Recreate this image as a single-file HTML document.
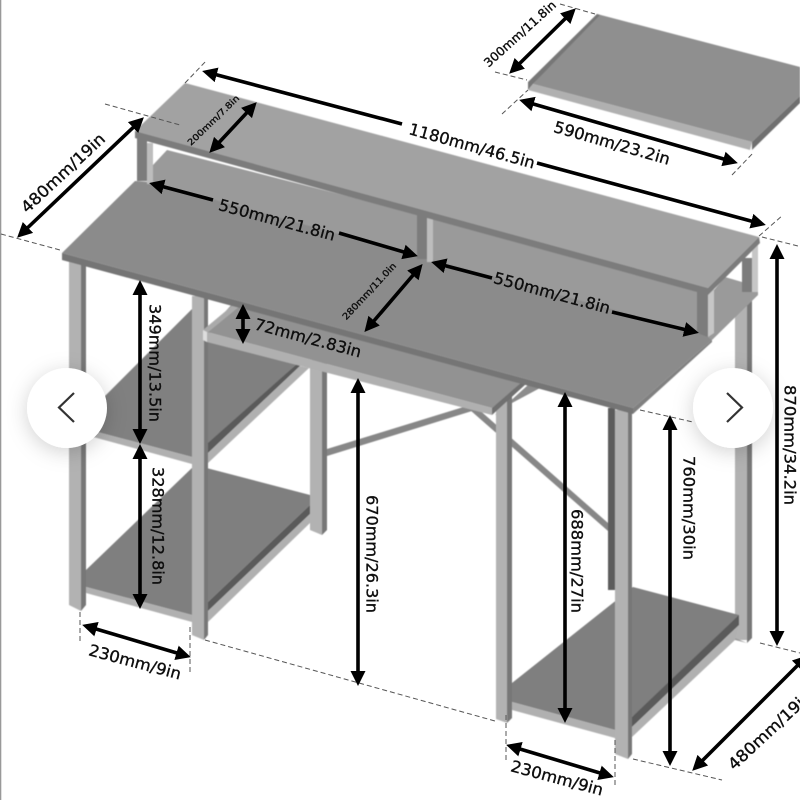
<!DOCTYPE html>
<html><head><meta charset="utf-8"><style>
html,body{margin:0;padding:0;background:#fff}
svg{display:block;width:800px;height:800px}
text{font-family:"DejaVu Sans","Liberation Sans",sans-serif;fill:#111;stroke:#111;stroke-width:.35;text-anchor:middle;dominant-baseline:central}
.d{stroke:#555;stroke-width:1;stroke-dasharray:5 3;fill:none}
.a{stroke:#000;stroke-width:3.6;fill:none}
.s{marker-start:url(#h)}.e{marker-end:url(#h)}
</style></head><body>
<svg viewBox="0 0 800 800" xmlns="http://www.w3.org/2000/svg">
<defs>
<marker id="h" markerUnits="userSpaceOnUse" markerWidth="17" markerHeight="16" refX="11" refY="8" orient="auto-start-reverse"><path d="M0 0.5L15 8L0 15.5Z" fill="#000"/></marker>
<filter id="sh" x="-50%" y="-50%" width="200%" height="200%"><feDropShadow dx="0" dy="4" stdDeviation="10" flood-color="#000" flood-opacity=".18"/></filter>
<filter id="b"><feGaussianBlur stdDeviation=".45"/></filter>
<filter id="b2"><feGaussianBlur stdDeviation=".3"/></filter>
</defs>
<rect width="800" height="800" fill="#fff"/>
<rect x="0" y="0" width="1.3" height="800" fill="#999"/>
<g filter="url(#b)">
<!-- separate board -->
<polygon points="597,14 800,67 800,96 752,142 533,84" fill="#8f8f8f"/>
<polygon points="597,14 528,82 528,90 533,84 600,15" fill="#777"/>
<polygon points="528,90 533,84 752,142 750,150" fill="#b0b0b0"/>
<polygon points="752,142 800,96 800,103 752,150" fill="#707070"/>
<!-- back legs, braces -->
<rect x="608" y="408" width="7" height="182" fill="#5c5c5c"/>
<rect x="735" y="300" width="12" height="340" fill="#b2b2b2"/>
<polygon points="747,300 752,300 752,638 747,643" fill="#777"/>
<polygon points="735,638 747,643 735,640" fill="#999"/>
<polygon points="327,449 470,405 472,411 327,456" fill="#878787"/>
<polygon points="470,410 476,407 608,523 608,531" fill="#878787"/>
<polygon points="495,415 528,385 540,388 512,403 512,410" fill="#8c8c8c"/>
<!-- upper-left shelf -->
<polygon points="193,308 86,415 86,429 192,457 208,445 298,363 215,340" fill="#808080"/>
<polygon points="86,429 192,457 192,464 86,435" fill="#b0b0b0"/>
<polygon points="208,443 298,363 300,366 208,453" fill="#5a5a5a"/>
<polygon points="208,453 300,366 309,368 208,463" fill="#b0b0b0"/>
<!-- lower-left shelf -->
<polygon points="86,570 195,465 310,495 310,505 208,602 192,615 86,587" fill="#7f7f7f"/>
<polygon points="86,587 192,615 192,622 86,593" fill="#b0b0b0"/>
<polygon points="208,602 310,505 310,514 208,611" fill="#5a5a5a"/>
<polygon points="208,611 310,514 310,523 208,622" fill="#b0b0b0"/>
<!-- bottom-right shelf -->
<polygon points="512,683 633,587 739,615 739,625 632,717 615,730 512,702" fill="#7f7f7f"/>
<polygon points="512,702 615,730 615,738 512,710" fill="#b0b0b0"/>
<polygon points="632,717 739,615 739,625 632,727" fill="#5a5a5a"/>
<polygon points="632,727 739,625 735,640 632,737" fill="#b0b0b0"/>
<!-- legs -->
<polygon points="69,262 81,262 81,611 69,605" fill="#b2b2b2"/>
<polygon points="81,262 86,262 86,605 81,611" fill="#777"/>
<polygon points="310,360 322,360 322,535 310,530" fill="#b2b2b2"/>
<polygon points="322,360 327,360 327,530 322,535" fill="#777"/>
<polygon points="192,296 204,296 204,640 192,635" fill="#b2b2b2"/>
<polygon points="204,296 208,296 208,635 204,640" fill="#777"/>
<polygon points="496,395 507,395 507,723 496,719" fill="#b2b2b2"/>
<polygon points="507,395 512,395 512,718 507,723" fill="#777"/>
<polygon points="615,410 628,410 628,759 615,754" fill="#b2b2b2"/>
<polygon points="628,410 632,410 632,754 628,759" fill="#777"/>
<!-- tray -->
<polygon points="207,332 233,303 525,382 492,408" fill="#929292"/>
<polygon points="203,330 233,305 240,306 207,333" fill="#aaa"/>
<polygon points="207,332 492,408 492,415 207,342" fill="#b0b0b0"/>
<polygon points="203,330 207,332 207,342 203,340" fill="#ddd"/>
<polygon points="492,408 522,382 526,384 492,415" fill="#6f6f6f"/>
<!-- hutch panel + desk -->
<polygon points="153,185 153,165 167,150 714,290 725,277 742,282 753,285 758,288 758,295 712,340 705,337" fill="#9a9a9a"/>
<polygon points="62,253 135,181 150,182 705,335 712,340 633,408" fill="#8b8b8b"/>
<polygon points="62,253 633,408 633,414 62,260" fill="#757575"/>
<polygon points="633,408 712,340 712,342 633,414" fill="#808080"/>
<!-- hutch legs -->
<rect x="137" y="138" width="10" height="43" fill="#7c7c7c"/><rect x="147" y="143" width="6" height="41" fill="#bdbdbd"/>
<rect x="417" y="213" width="10" height="46" fill="#7c7c7c"/><rect x="427" y="216" width="6" height="46" fill="#bdbdbd"/>
<polygon points="697,290 708,290 708,337 697,333" fill="#7c7c7c"/><polygon points="708,288 714,288 714,333 708,337" fill="#c6c6c6"/>
<rect x="742" y="258" width="10" height="34" fill="#7c7c7c"/><rect x="752" y="245" width="6" height="47" fill="#c6c6c6"/>
<!-- hutch top -->
<polygon points="185,83 759,237 708,288 135,131" fill="#a2a2a2"/>
<polygon points="135,131 708,288 708,295 135,138" fill="#7c7c7c"/>
<polygon points="708,288 759,237 760,243 708,295" fill="#7c7c7c"/>
</g>
<g filter="url(#b2)">
<!-- dashed -->
<path class="d" d="M185 83L207 60M105 104L180 125M1 234L60 250M759 236L783 215M762 237L798 246M495 72L527 80M560 4L595 14M502 114L528 90M732 175L754 152M80 612V642M190 627V675M205 640L495 721M506 715V762M615 740V788M633 759L722 780M760 643L800 653M640 410L693 422"/>
<!-- arrows -->
<path class="a s" d="M206 72L402 124"/>
<path class="a e" d="M537 163L762 224"/>
<path class="a s e" d="M141 120L20 235"/>
<path class="a s e" d="M254 105L212 150"/>
<path class="a s" d="M153 184L213 200"/>
<path class="a e" d="M339 233L414 255"/>
<path class="a s e" d="M420 267L367 329"/>
<path class="a s" d="M435 263L492 278"/>
<path class="a e" d="M612 312L695 332"/>
<path class="a s e" d="M243 308V340"/>
<path class="a s e" d="M140 284V440"/>
<path class="a s e" d="M140 448V605"/>
<path class="a s e" d="M358 382V682"/>
<path class="a s e" d="M565 396V719"/>
<path class="a s e" d="M670 419V762"/>
<path class="a s e" d="M777 248V642"/>
<path class="a s e" d="M86 626L187 656"/>
<path class="a s e" d="M510 746L610 776"/>
<path class="a s e" d="M805 658L695 768"/>
<path class="a s e" d="M573 11L512 71"/>
<path class="a s e" d="M523 101L734 162"/>
<!-- labels -->
<text x="472" y="146" font-size="16" textLength="130" lengthAdjust="spacingAndGlyphs" transform="rotate(15.5 472 146)">1180mm/46.5in</text>
<text x="63" y="173" font-size="16" textLength="108" lengthAdjust="spacingAndGlyphs" transform="rotate(-43 63 173)">480mm/19in</text>
<text x="214" y="121" font-size="8.5" textLength="68" lengthAdjust="spacingAndGlyphs" transform="rotate(-44 214 121)">200mm/7.8in</text>
<text x="277" y="220" font-size="16" textLength="120" lengthAdjust="spacingAndGlyphs" transform="rotate(15 277 220)">550mm/21.8in</text>
<text x="370" y="292" font-size="9" textLength="74" lengthAdjust="spacingAndGlyphs" transform="rotate(-47 370 292)">280mm/11.0in</text>
<text x="552" y="293" font-size="16" textLength="120" lengthAdjust="spacingAndGlyphs" transform="rotate(15 552 293)">550mm/21.8in</text>
<text x="308" y="338" font-size="16" textLength="110" lengthAdjust="spacingAndGlyphs" transform="rotate(15 308 338)">72mm/2.83in</text>
<text x="155" y="363" font-size="16" textLength="118" lengthAdjust="spacingAndGlyphs" transform="rotate(90 155 363)">349mm/13.5in</text>
<text x="158" y="526" font-size="16" textLength="118" lengthAdjust="spacingAndGlyphs" transform="rotate(90 158 526)">328mm/12.8in</text>
<text x="372" y="554" font-size="16" textLength="118" lengthAdjust="spacingAndGlyphs" transform="rotate(90 372 554)">670mm/26.3in</text>
<text x="577" y="561" font-size="16" textLength="104" lengthAdjust="spacingAndGlyphs" transform="rotate(90 577 561)">688mm/27in</text>
<text x="689" y="508" font-size="16" textLength="104" lengthAdjust="spacingAndGlyphs" transform="rotate(90 689 508)">760mm/30in</text>
<text x="790" y="445" font-size="16" textLength="120" lengthAdjust="spacingAndGlyphs" transform="rotate(90 790 445)">870mm/34.2in</text>
<text x="135" y="662" font-size="16" textLength="95" lengthAdjust="spacingAndGlyphs" transform="rotate(15 135 662)">230mm/9in</text>
<text x="557" y="778" font-size="16" textLength="95" lengthAdjust="spacingAndGlyphs" transform="rotate(15 557 778)">230mm/9in</text>
<text x="770" y="730" font-size="16" textLength="108" lengthAdjust="spacingAndGlyphs" transform="rotate(-43 770 730)">480mm/19in</text>
<text x="520" y="34" font-size="12" textLength="92" lengthAdjust="spacingAndGlyphs" transform="rotate(-42 520 34)">300mm/11.8in</text>
<text x="612" y="143" font-size="16" textLength="120" lengthAdjust="spacingAndGlyphs" transform="rotate(16 612 143)">590mm/23.2in</text>
</g>
<!-- nav buttons -->
<circle cx="67" cy="408" r="40" fill="#fff" filter="url(#sh)"/>
<circle cx="733" cy="408" r="40" fill="#fff" filter="url(#sh)"/>
<path d="M74 393L59 407.5L74 422" fill="none" stroke="#333" stroke-width="2.2"/>
<path d="M727 393L742 407.5L727 422" fill="none" stroke="#333" stroke-width="2.2"/>
</svg>
</body></html>
